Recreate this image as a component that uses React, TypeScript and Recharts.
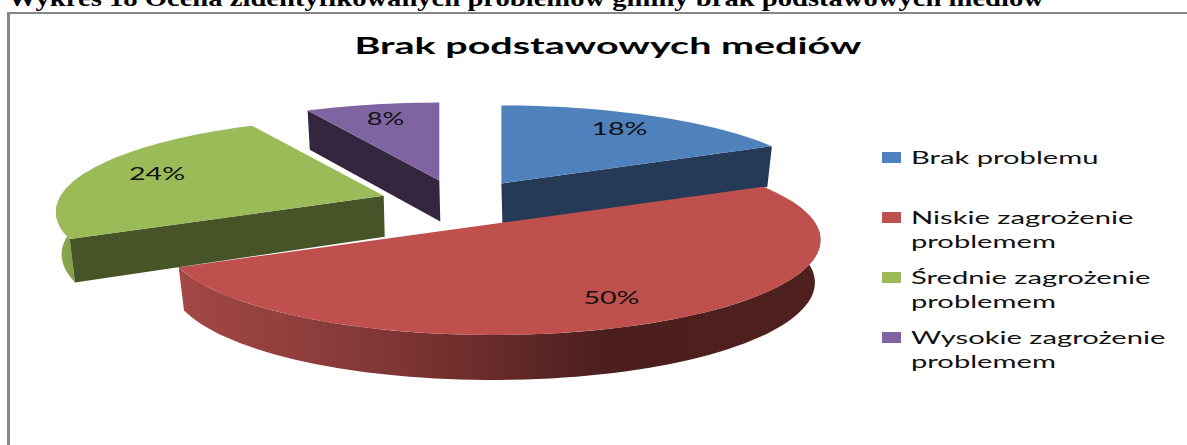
import React from 'react';
import { PieChart, Pie, Legend } from 'recharts';

const categories = ['Brak problemu', 'Niskie zagrożenie problemem', 'Średnie zagrożenie problemem', 'Wysokie zagrożenie problemem'];
const shares = [18, 50, 24, 8];
const topColors = ['#4f81bd', '#c0504d', '#9bbb59', '#8064a2'];
const faceColors = ['#243a57', '#4a1e1d', '#465428', '#35263f'];
const rimStops = [
  ['#2f4d73', '#243a57'],
  ['#a44846', '#7f3634', '#4b1e1d', '#4f201e'],
  ['#8eaa50', '#7b9444'],
  ['#4f3c66', '#35263f'],
];

const tableData = categories.map((name, i) => ({ name, value: shares[i], fill: topColors[i] }));

const SQUASH = 0.2926;
const PERSPECTIVE = 0.175;
const EXPLODE = 0.245;
const LABEL_RADIUS = 0.77;
const BOTTOM_SHRINK = 0.983;
const RAD = Math.PI / 180;

// recharts angle -> degrees clockwise from north
const fromNorth = (a: number) => 90 - a;

const apexOf = (p: any) => {
  const mid = fromNorth(p.midAngle) * RAD;
  return {
    x: p.cx + p.outerRadius * EXPLODE * Math.sin(mid),
    y: p.cy - p.outerRadius * EXPLODE * SQUASH * Math.cos(mid),
  };
};

const project = (p: any, apex: { x: number; y: number }, deg: number, f = 1) => {
  const t = deg * RAD;
  const k = 1 - PERSPECTIVE * f * Math.cos(t);
  return {
    x: apex.x + p.outerRadius * f * Math.sin(t) * k,
    y: apex.y - p.outerRadius * SQUASH * f * Math.cos(t) * k,
  };
};

const depthAt = (deg: number) => 42 - 3 * Math.cos(deg * RAD);

// the lower edge of the wall sits a little closer to the slice's apex
const dropped = (p: any, apex: { x: number; y: number }, deg: number) => {
  const q = project(p, apex, deg);
  return { x: apex.x + (q.x - apex.x) * BOTTOM_SHRINK, y: q.y + depthAt(deg) };
};

const sweep = (from: number, to: number) => {
  const out: number[] = [];
  for (let d = from; d < to; d += 2) out.push(d);
  out.push(to);
  return out;
};

const pathOf = (pts: { x: number; y: number }[]) =>
  pts.map((q, i) => `${i ? 'L' : 'M'}${q.x.toFixed(1)},${q.y.toFixed(1)}`).join(' ') + ' Z';

const Slice = (props: any) => {
  const i = categories.indexOf(props.name);
  const apex = apexOf(props);
  const a0 = fromNorth(props.startAngle);
  const a1 = fromNorth(props.endAngle);
  const arc = sweep(a0, a1);
  const top = [apex, ...arc.map((d) => project(props, apex, d))];

  const rimFrom = Math.max(a0, 75);
  const rimTo = Math.min(a1, 285);
  const rim = rimFrom < rimTo ? sweep(rimFrom, rimTo) : [];
  const rimPts = [
    ...rim.map((d) => project(props, apex, d)),
    ...rim.slice().reverse().map((d) => dropped(props, apex, d)),
  ];

  const sideFace = (deg: number) =>
    pathOf([apex, project(props, apex, deg), dropped(props, apex, deg), { x: apex.x + 1, y: apex.y + 41 }]);
  const showStart = Math.sin(a0 * RAD) < -0.01;
  const showEnd = Math.sin(a1 * RAD) > 0.01;

  return (
    <g>
      <defs>
        <linearGradient id={`rim-${i}`} x1="0" y1="0" x2="1" y2="0">
          {rimStops[i].map((c, j) => (
            <stop key={j} offset={j / (rimStops[i].length - 1)} stopColor={c} />
          ))}
        </linearGradient>
      </defs>
      {rim.length > 0 && <path d={pathOf(rimPts)} fill={`url(#rim-${i})`} />}
      {showStart && <path d={sideFace(a0)} fill={faceColors[i]} />}
      {showEnd && <path d={sideFace(a1)} fill={faceColors[i]} />}
      <path d={pathOf(top)} fill={props.fill} />
    </g>
  );
};

const renderLabel = (props: any) => {
  const apex = apexOf(props);
  const q = project(props, apex, fromNorth(props.midAngle), LABEL_RADIUS);
  const text = `${props.value}%`;
  return (
    <text
      x={q.x}
      y={q.y + 6}
      textAnchor="middle"
      fontFamily="Lato"
      fontSize={18}
      fill="#111"
      textLength={text.length * 18.7}
      lengthAdjust="spacingAndGlyphs"
    >
      {text}
    </text>
  );
};

const LegendBox = ({ payload }: any) => (
  <div style={{ fontFamily: 'Lato', fontSize: 18, lineHeight: '24px', color: '#111' }}>
    {(payload || []).map((entry: any) => {
      const words = entry.value.split(' ');
      const lines = words.length > 2 ? [words.slice(0, 2).join(' '), words[2]] : [entry.value];
      return (
        <div key={entry.value} style={{ position: 'relative', height: 60, paddingLeft: 29 }}>
          <span style={{ position: 'absolute', left: 0, top: 7, width: 19, height: 11, background: entry.color }} />
          {lines.map((l: string) => (
            <div key={l} style={{ transform: 'scaleX(1.62)', transformOrigin: 'left', whiteSpace: 'nowrap' }}>{l}</div>
          ))}
        </div>
      );
    })}
  </div>
);

export default function App() {
  return (
    <div style={{ position: 'absolute', left: 0, top: 0, width: 1187, height: 445, overflow: 'hidden', background: '#fff' }}>
      <div style={{ position: 'absolute', left: 8, top: -14, fontFamily: 'Liberation Serif', fontWeight: 'bold', fontSize: 23, whiteSpace: 'nowrap', color: '#000', transform: 'scaleX(1.244)', transformOrigin: 'left' }}>
        Wykres 18 Ocena zidentyfikowanych problemów gminy brak podstawowych mediów
      </div>
      <div style={{ position: 'absolute', left: 7, top: 12, width: 1180, height: 2, background: '#868686' }} />
      <div style={{ position: 'absolute', left: 7, top: 12, width: 3, height: 433, background: '#868686' }} />
      <div style={{ position: 'absolute', left: 0, top: 0 }}>
        <PieChart width={1187} height={445} margin={{ top: 0, right: 0, bottom: 0, left: 0 }}>
          <text
            x={608}
            y={54}
            textAnchor="middle"
            fontFamily="Lato"
            fontWeight="bold"
            fontSize={22}
            fill="#000"
            textLength={507}
            lengthAdjust="spacingAndGlyphs"
          >
            Brak podstawowych mediów
          </text>
          <Pie
            data={tableData}
            dataKey="value"
            nameKey="name"
            cx={459}
            cy={203}
            outerRadius={323}
            startAngle={90}
            endAngle={-270}
            stroke="none"
            shape={Slice}
            label={renderLabel}
            labelLine={false}
            isAnimationActive={false}
          />
          <Legend
            layout="vertical"
            align="right"
            verticalAlign="top"
            itemSorter={null}
            content={LegendBox}
            wrapperStyle={{ left: 882, right: 'auto', top: 145, width: 290 }}
          />
        </PieChart>
      </div>
    </div>
  );
}
